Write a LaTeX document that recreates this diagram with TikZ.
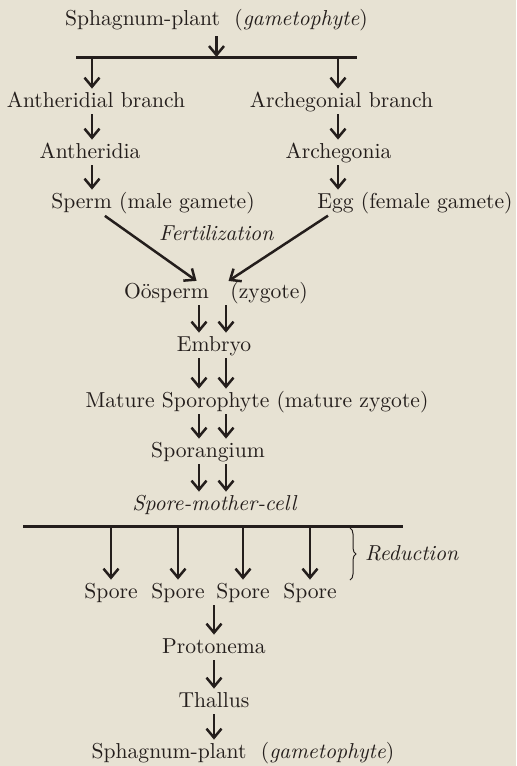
\documentclass[tikz,border=0pt]{standalone}
\usepackage{fontspec}
\usepackage{tikz}
\usetikzlibrary{arrows.meta,decorations.pathreplacing}
\definecolor{paper}{RGB}{231,226,211}
\definecolor{ink}{RGB}{36,30,28}

\begin{document}
\begin{tikzpicture}[x=0.5pt, y=-0.5pt,
	text_style/.style={anchor=base, inner sep=0pt, text height=7.5pt, text depth=2pt, text=ink, font=\fontsize{10.8}{13}\selectfont},
	arrow_style/.style={ink, line width=1.25pt, -{Straight Barb[length=4.5pt,width=7.5pt]}, shorten <=1.5pt, shorten >=1.5pt},
	bar_style/.style={ink, line width=1.5pt}]
	\fill[paper] (0,0) rectangle (516,766);
	% gametophyte part
	\node[text_style] (plant) at (216.5,25) {Sphagnum-plant\ \ (\textit{gametophyte})};
	\node[text_style] (anthb) at (96,107) {Antheridial branch};
	\node[text_style] (archb) at (341.5,107) {Archegonial branch};
	\node[text_style] (anth) at (90,158) {Antheridia};
	\node[text_style] (arch) at (338.5,158) {Archegonia};
	\node[text_style] (sperm) at (153,208) {Sperm (male gamete)};
	\node[text_style] (egg) at (415,208) {Egg (female gamete)};
	\node[text_style] (fert) at (216.5,240) {\textit{Fertilization}};
	% sporophyte part
	\node[text_style] (oos) at (216,298) {Oösperm\quad(zygote)};
	\node[text_style] (embryo) at (214,351) {Embryo};
	\node[text_style] (mature) at (257,407) {Mature Sporophyte (mature zygote)};
	\node[text_style] (sporangium) at (208,457) {Sporangium};
	\node[text_style] (smc) at (215,510) {\textit{Spore-mother-cell}};
	\foreach \x [count=\i] in {111,178,243,310}
		\node[text_style] (spore\i) at (\x,598) {Spore};
	\node[text_style] (red) at (412,560) {\textit{Reduction}};
	\node[text_style] (proto) at (214,653) {Protonema};
	\node[text_style] (thallus) at (214,707) {Thallus};
	\node[text_style] (plant2) at (243,758) {Sphagnum-plant\ \ (\textit{gametophyte})};

	\coordinate (lcol) at (92,57);
	\coordinate (rcol) at (338,57);
	\coordinate (sl) at (100,0);
	\coordinate (sr) at (333,0);
	\coordinate (dl) at (199,0);
	\coordinate (dr) at (226,0);

	\draw[bar_style] (76,57) coordinate (tbl) -- (357,57);
	\draw[arrow_style, shorten <=3.5pt, shorten >=0pt] (plant.south) -- (plant.south |- tbl);
	\foreach \c/\a/\b/\s in {lcol/anthb/anth/sperm, rcol/archb/arch/egg} {
		\draw[arrow_style, shorten <=0pt] (\c) -- (\a.north -| \c);
		\draw[arrow_style] (\a.south -| \c) -- (\b.north -| \c);
		\draw[arrow_style] (\b.south -| \c) -- (\s.north -| \c);
	}
	\draw[arrow_style, shorten <=3pt] (sperm.south -| sl) -- (oos.north -| dl);
	\draw[arrow_style, shorten <=3pt] (egg.south -| sr) -- (oos.north -| dr);
	\foreach \a/\b in {oos/embryo, embryo/mature, mature/sporangium, sporangium/smc}
		\foreach \c in {dl,dr}
			\draw[arrow_style] (\a.south -| \c) -- (\b.north -| \c);

	\draw[bar_style] (23,526) coordinate (bbl) -- (403,526);
	\foreach \i in {1,...,4}
		\draw[arrow_style, shorten <=0pt] (spore\i.north |- bbl) -- (spore\i.north);
	\draw[ink, line width=0.5pt, decorate, decoration={brace, amplitude=3pt}] (350,528) -- (350,580);

	\draw[arrow_style] (proto.north |- spore1.south) -- (proto.north);
	\draw[arrow_style] (proto.south) -- (thallus.north);
	\draw[arrow_style] (thallus.south) -- (thallus.south |- plant2.north);
\end{tikzpicture}
\end{document}
